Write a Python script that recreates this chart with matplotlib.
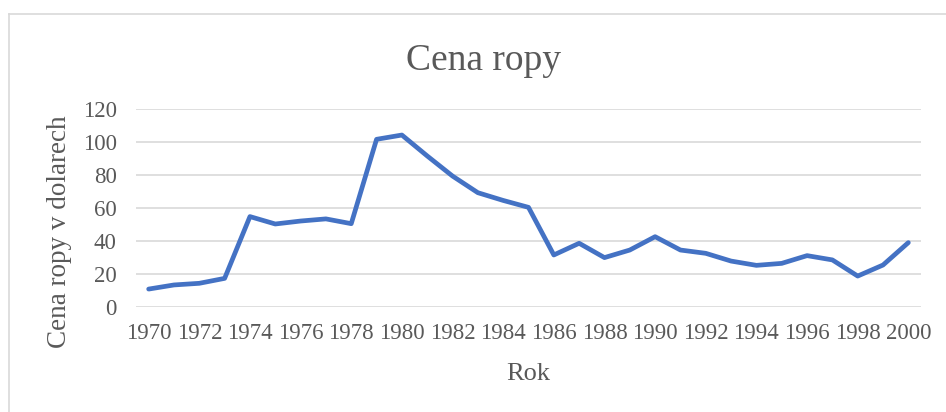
import matplotlib
matplotlib.use("Agg")
import matplotlib.pyplot as plt
from matplotlib.lines import Line2D

years = list(range(1970, 2001))
prices = [10.7, 13.2, 14.2, 17.2, 54.7, 50.2, 52.0, 53.3, 50.4, 101.6,
          104.2, 91.5, 79.3, 69.2, 64.5, 60.3, 31.4, 38.5, 29.8, 34.4,
          42.5, 34.4, 32.4, 27.7, 25.1, 26.3, 31.0, 28.4, 18.6, 25.3, 38.9]
y_ticks = [0, 20, 40, 60, 80, 100, 120]
x_tick_years = list(range(1970, 2001, 2))

title = "Cena ropy"
ylabel = "Cena ropy v dolarech"
xlabel = "Rok"

plt.rcParams['font.family'] = ['Liberation Serif', 'DejaVu Serif']
grey = '#595959'

W, H = 946, 412
fig = plt.figure(figsize=(W / 100, H / 100), dpi=100)
fig.patch.set_facecolor('white')

left, right, top, bottom = 136, 921, 109, 306.7
ax = fig.add_axes([left / W, 1 - bottom / H, (right - left) / W, (bottom - top) / H])

ax.plot(years, prices, color='#4472C4', lw=3.4, solid_capstyle='round',
        solid_joinstyle='round', zorder=3)

ax.set_xlim(1969.5, 2000.5)
ax.set_ylim(0, 120)
ax.set_yticks(y_ticks)
ax.set_xticks(x_tick_years)
ax.set_xticklabels([str(y) for y in x_tick_years])
ax.yaxis.grid(True, color='#d9d9d9', lw=1.2)
ax.xaxis.grid(False)
ax.set_axisbelow(True)
for s in ax.spines.values():
    s.set_visible(False)
ax.tick_params(axis='both', length=0, labelsize=16.5, colors=grey)
ax.tick_params(axis='y', pad=14)
ax.tick_params(axis='x', pad=12)

ax.set_ylabel(ylabel, fontsize=19.5, color=grey)
ax.yaxis.set_label_coords((72 - left) / (right - left), (bottom - 231.5) / (bottom - top))
ax.set_xlabel(xlabel, fontsize=19, color=grey, va='baseline')
ax.xaxis.set_label_coords(0.5, (bottom - 380) / (bottom - top))

fig.text(483.5 / W, 1 - 70 / H, title, fontsize=27, color=grey,
         ha='center', va='baseline')

# chart border
border = '#d9d9d9'
fig.add_artist(Line2D([9 / W, 9 / W], [0, 1 - 14 / H], transform=fig.transFigure,
                      color=border, lw=1.2))
fig.add_artist(Line2D([9 / W, 1], [1 - 14 / H, 1 - 14 / H], transform=fig.transFigure,
                      color=border, lw=1.2))

fig.savefig('out.png', dpi=100)
